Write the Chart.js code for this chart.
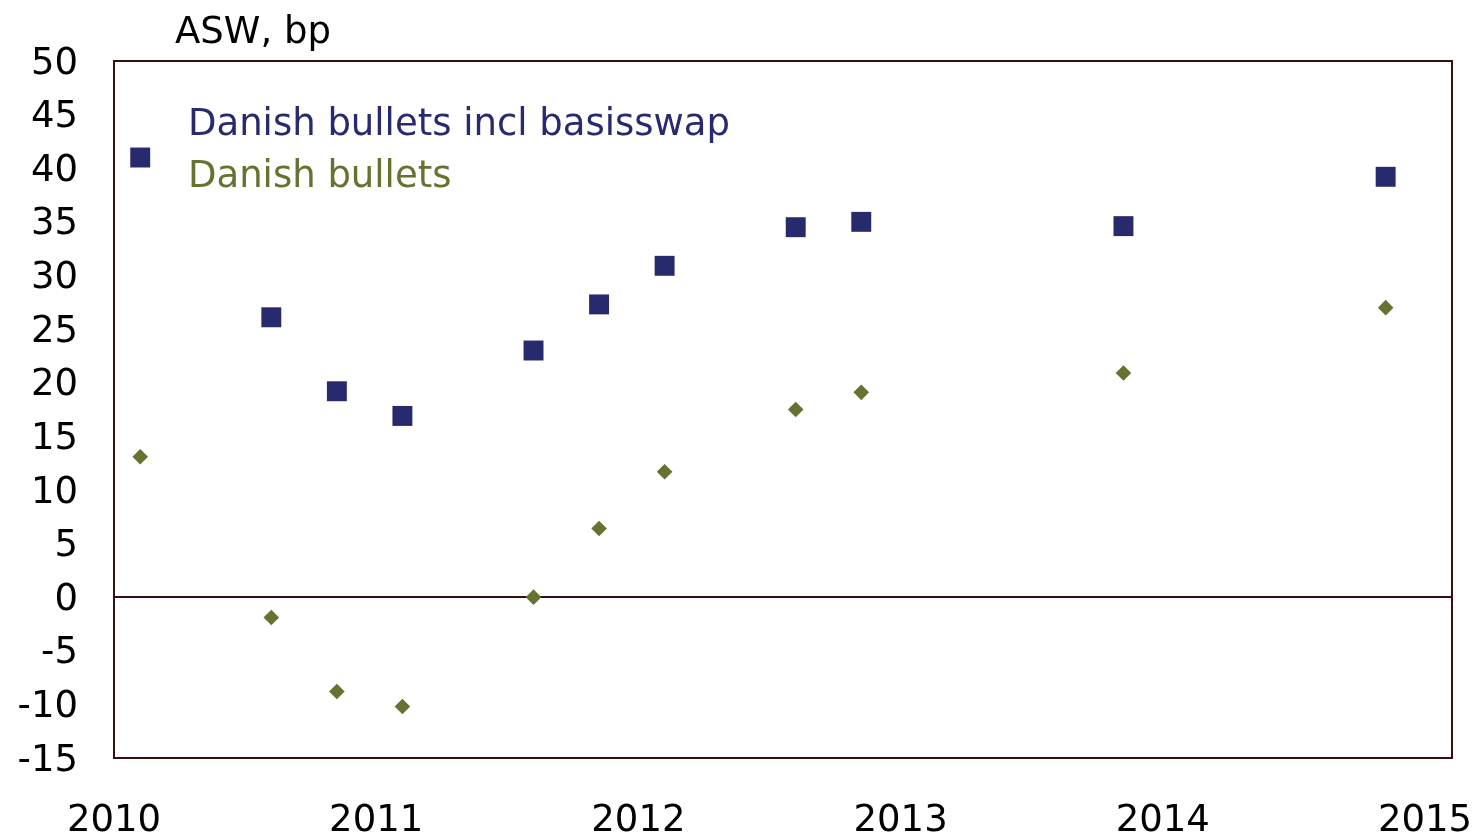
<!DOCTYPE html>
<html>
<head>
<meta charset="utf-8">
<style>
  html, body { margin: 0; padding: 0; background: #ffffff; }
  #wrap { width: 1479px; height: 836px; position: relative; }
</style>
<script src="https://cdn.jsdelivr.net/npm/chart.js@4/dist/chart.umd.min.js"></script>
</head>
<body>
<div id="wrap"><canvas id="c" width="1479" height="836"></canvas></div>
<script>
// ---- data ----
const dates = [2010.10, 2010.60, 2010.85, 2011.10, 2011.60, 2011.85, 2012.10, 2012.60, 2012.85, 2013.85, 2014.85];
const basisswapValues = [41.0, 26.1, 19.2, 16.9, 23.0, 27.3, 30.9, 34.5, 35.0, 34.6, 39.2];
const bulletsValues = [13.1, -1.9, -8.8, -10.2, 0.0, 6.4, 11.7, 17.5, 19.1, 20.9, 27.0];
const seriesNames = ['Danish bullets incl basisswap', 'Danish bullets'];
const yTicks = [-15, -10, -5, 0, 5, 10, 15, 20, 25, 30, 35, 40, 45, 50];
const xTicks = [2010, 2011, 2012, 2013, 2014, 2015];
const axisTitle = 'ASW, bp';

const NAVY = '#282a6e';
const OLIVE = '#66722f';
const FRAME = '#3a0e10';
const FONT = '"DejaVu Sans", Verdana, sans-serif';

const toPts = (xs, ys) => xs.map((x, i) => ({ x: x, y: ys[i] }));

const overlay = {
  id: 'overlay',
  afterDatasetsDraw(chart) {
    const ctx = chart.ctx;
    const a = chart.chartArea;
    ctx.save();
    ctx.strokeStyle = FRAME;
    ctx.lineWidth = 2;
    ctx.strokeRect(a.left, a.top, a.right - a.left, a.bottom - a.top);
    ctx.font = '37px ' + FONT;
    ctx.textBaseline = 'middle';
    ctx.textAlign = 'left';
    // axis unit title
    ctx.fillStyle = '#000000';
    ctx.fillText(axisTitle, 175, 33);
    // legend (text only, coloured)
    chart.data.datasets.forEach((ds, i) => {
      ctx.fillStyle = ds.borderColor;
      ctx.fillText(ds.label, 188, 125 + i * 52);
    });
    ctx.restore();
  }
};

new Chart(document.getElementById('c'), {
  type: 'scatter',
  data: {
    datasets: [
      {
        label: seriesNames[0],
        data: toPts(dates, basisswapValues),
        pointStyle: 'rect',
        pointRadius: 14.1,
        pointHoverRadius: 14.1,
        backgroundColor: NAVY,
        borderColor: NAVY,
        borderWidth: 0
      },
      {
        label: seriesNames[1],
        data: toPts(dates, bulletsValues),
        pointStyle: 'rectRot',
        pointRadius: 7.8,
        pointHoverRadius: 7.8,
        backgroundColor: OLIVE,
        borderColor: OLIVE,
        borderWidth: 0
      }
    ]
  },
  options: {
    responsive: false,
    animation: false,
    events: [],
    layout: { padding: { top: 61, right: 27, left: 0, bottom: 0 } },
    plugins: { legend: { display: false }, title: { display: false }, tooltip: { enabled: false } },
    scales: {
      x: {
        type: 'linear',
        min: 2010,
        max: 2015.103,
        afterBuildTicks: (scale) => { scale.ticks = xTicks.map(v => ({ value: v })); },
        afterFit: (scale) => {
          scale.height = 836 - 758;
          scale.paddingLeft = 0;
          scale.paddingRight = 0;
        },
        grid: { display: false, drawTicks: false },
        border: { display: false },
        ticks: {
          includeBounds: false,
          autoSkip: false,
          maxRotation: 0,
          padding: 41,
          color: '#000000',
          font: { family: FONT, size: 37 },
          callback: (v) => String(v)
        }
      },
      y: {
        type: 'linear',
        min: -15,
        max: 50,
        afterBuildTicks: (scale) => { scale.ticks = yTicks.map(v => ({ value: v })); },
        afterFit: (scale) => {
          scale.width = 114;
          scale.paddingTop = 0;
          scale.paddingBottom = 0;
        },
        grid: {
          drawTicks: false,
          lineWidth: (c) => (c.tick && c.tick.value === 0 ? 2 : 0),
          color: (c) => (c.tick && c.tick.value === 0 ? FRAME : 'rgba(0,0,0,0)')
        },
        border: { display: false },
        ticks: {
          autoSkip: false,
          padding: 36,
          labelOffset: 3,
          color: '#000000',
          font: { family: FONT, size: 37 },
          callback: (v) => String(v)
        }
      }
    }
  },
  plugins: [overlay]
});
</script>
</body>
</html>
